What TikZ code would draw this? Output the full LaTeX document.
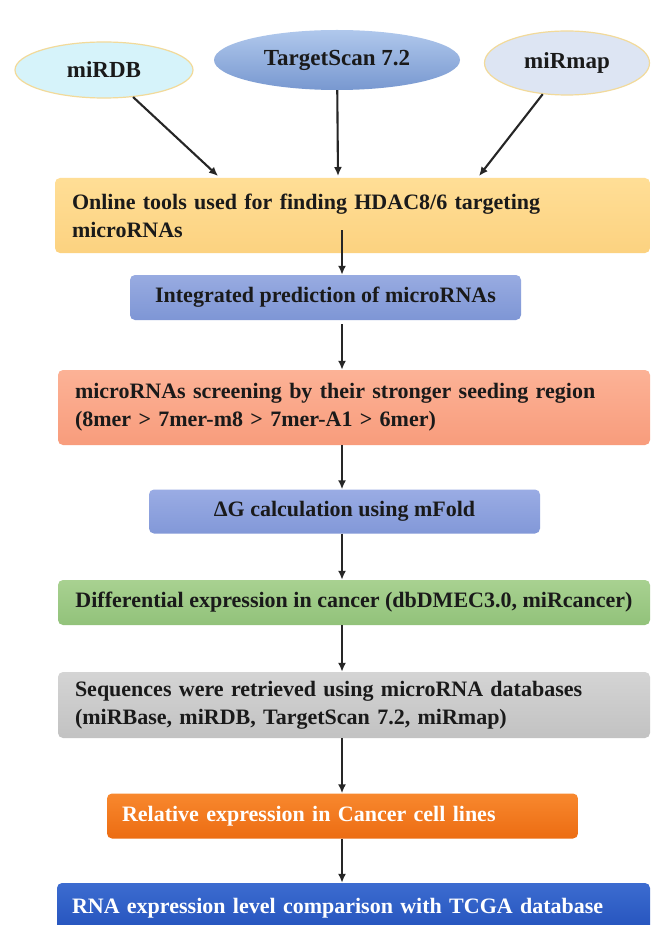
\documentclass[tikz,border=0pt]{standalone}
\usepackage{fontspec}
\setmainfont{Liberation Serif}
\usetikzlibrary{arrows.meta,shapes.geometric,shadings}
\definecolor{txt}{HTML}{1A1A1A}
\definecolor{ellborder}{HTML}{F2DA9A}
\definecolor{mirdbfill}{HTML}{D6F3FA}
\definecolor{mirmapfill}{HTML}{DDE5F3}
\definecolor{tstop}{HTML}{B0C8EC}
\definecolor{tsbot}{HTML}{7898D0}
\definecolor{bAt}{HTML}{FFDE96}\definecolor{bAb}{HTML}{FCD280}
\definecolor{bBt}{HTML}{98ABE1}\definecolor{bBb}{HTML}{7E96D5}
\definecolor{bCt}{HTML}{FCB296}\definecolor{bCb}{HTML}{F89C7C}
\definecolor{bDt}{HTML}{9AACE4}\definecolor{bDb}{HTML}{8298D8}
\definecolor{bEt}{HTML}{A8D191}\definecolor{bEb}{HTML}{92C27A}
\definecolor{bFt}{HTML}{D4D4D4}\definecolor{bFb}{HTML}{C2C2C2}
\definecolor{bGt}{HTML}{F8882E}\definecolor{bGb}{HTML}{EC6C12}
\definecolor{bHt}{HTML}{3C6CD0}\definecolor{bHb}{HTML}{2452BC}
\begin{document}
\begin{tikzpicture}[x=1pt,y=-1pt,
  every node/.style={font=\bfseries\fontsize{22}{28}\selectfont, text=txt},
  ell/.style={ellipse, inner sep=0pt, font=\bfseries\fontsize{23}{28}\selectfont},
  flowbox/.style={rectangle, rounded corners=5pt, inner ysep=0pt},
  leftbox/.style={flowbox, align=left, inner xsep=17pt},
  ctrbox/.style={flowbox, align=center},
  arr/.style={line width=2.1pt, draw=black!85, -{Latex[length=9pt,width=8pt]}}
]
\useasboundingbox (0,0) rectangle (659,925);
\fill[white] (0,0) rectangle (659,925);

% ellipses
\node[ell, draw=ellborder, line width=1.2pt, fill=mirdbfill, minimum width=178pt, minimum height=56pt] (mirdb) at (104,70) {miRDB};
\node[ell, top color=tstop, bottom color=tsbot, minimum width=246pt, minimum height=60pt] (ts) at (337,60) {TargetScan 7.2};
\node[ell, draw=ellborder, line width=1.2pt, fill=mirmapfill, minimum width=165pt, minimum height=64pt] (mirmap) at (567,63) {miRmap};

% boxes
\node[leftbox, top color=bAt, bottom color=bAb, text width=561pt, minimum height=75pt] (b1) at (352.5,215.5) {Online tools used for finding HDAC8/6 targeting\\microRNAs};
\node[ctrbox, top color=bBt, bottom color=bBb, minimum width=391pt, minimum height=45pt] (b2) at (325.5,297.5) {Integrated prediction of microRNAs};
\node[leftbox, top color=bCt, bottom color=bCb, text width=558pt, minimum height=75pt] (b3) at (354,407.5) {microRNAs screening by their stronger seeding region\\(8mer > 7mer-m8 > 7mer-A1 > 6mer)};
\node[ctrbox, top color=bDt, bottom color=bDb, minimum width=391pt, minimum height=44pt] (b4) at (344.5,511.5) {ΔG calculation using mFold};
\node[ctrbox, top color=bEt, bottom color=bEb, minimum width=592pt, minimum height=45pt] (b5) at (354,602.5) {Differential expression in cancer (dbDMEC3.0, miRcancer)};
\node[leftbox, top color=bFt, bottom color=bFb, text width=558pt, minimum height=66pt] (b6) at (354,705) {Sequences were retrieved using microRNA databases\\(miRBase, miRDB, TargetScan 7.2, miRmap)};
\node[leftbox, inner xsep=15pt, text=white, top color=bGt, bottom color=bGb, text width=441pt, minimum height=45pt] (b7) at (342.5,816) {Relative expression in Cancer cell lines};
\node[leftbox, inner xsep=15pt, text=white, top color=bHt, bottom color=bHb, text width=563pt, minimum height=50pt] (b8) at (353.5,908) {RNA expression level comparison with TCGA database};

% connectors
\coordinate (colx) at (342,0);
\coordinate (t1) at (218,176);
\coordinate (t2) at (338,176);
\coordinate (t3) at (479,176);
\draw[arr] (mirdb) -- (t1);
\draw[arr] (ts) -- (t2);
\draw[arr] (mirmap) -- (t3);
\draw[arr] ([yshift=23pt]b1.south -| colx) -- (b2.north -| colx);
\draw[arr] ([yshift=-4pt]b2.south -| colx) -- (b3.north -| colx);
\draw[arr] (b3.south -| colx) -- (b4.north -| colx);
\draw[arr] (b4.south -| colx) -- (b5.north -| colx);
\draw[arr] (b5.south -| colx) -- (b6.north -| colx);
\draw[arr] (b6.south -| colx) -- (b7.north -| colx);
\draw[arr] (b7.south -| colx) -- (b8.north -| colx);
\end{tikzpicture}
\end{document}
